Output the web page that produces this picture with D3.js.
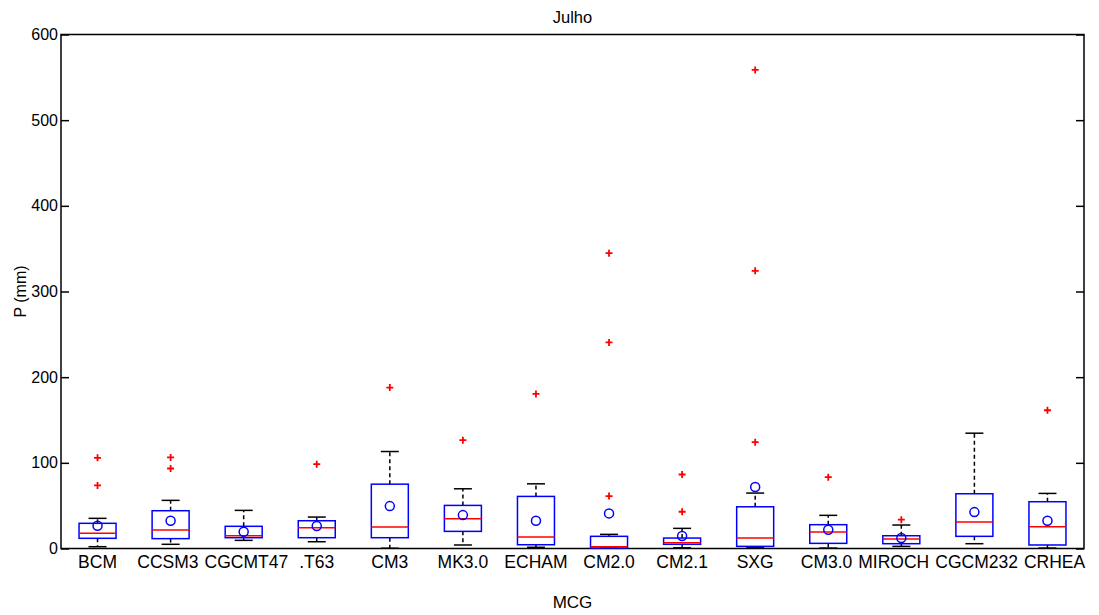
<!DOCTYPE html>
<html>
<head>
<meta charset="utf-8">
<script src="https://cdn.jsdelivr.net/npm/d3@7"></script>
<style>
  body { margin: 0; background: #fff; }
  svg { font-family: "Liberation Sans", Arial, sans-serif; }
</style>
</head>
<body>
<svg id="chart" width="1099" height="615"></svg>
<script>
// box statistics per model (P in mm)
const categories = ["BCM", "CCSM3", "CGCMT47", ".T63", "CM3", "MK3.0", "ECHAM",
  "CM2.0", "CM2.1", "SXG", "CM3.0", "MIROCH", "CGCM232", "CRHEA"];
const whiskerLow  = [2.1, 4.9, 9.5, 7.9, 0.3, 4.1, 1.4, 0.3, 0.8, 1.0, 0.5, 2.5, 5.6, 0.5];
const q1          = [11.9, 11.5, 12.6, 12.6, 12.6, 20.0, 4.4, 0.5, 4.9, 2.5, 6.0, 5.6, 14.2, 4.1];
const medians     = [17.7, 21.6, 14.9, 24.3, 25.0, 34.7, 13.4, 2.1, 6.8, 12.2, 19.2, 11.1, 30.9, 25.4];
const q3          = [29.4, 44.1, 25.9, 32.4, 75.1, 50.3, 60.8, 14.2, 12.2, 48.7, 27.8, 14.9, 63.9, 54.6];
const whiskerHigh = [35.2, 56.2, 44.5, 36.7, 113.2, 69.7, 75.5, 16.5, 23.5, 64.7, 38.7, 27.4, 134.6, 64.3];
const means       = [26.6, 32.4, 19.6, 26.2, 49.5, 39.0, 32.4, 41.0, 14.6, 71.7, 21.9, 12.2, 42.5, 32.4];
const outliers    = [[105.8, 73.6], [106.3, 93.4], [], [98.4], [187.8], [126.4], [180.4],
  [344.7, 240.6, 61.2], [86.4, 42.9], [558.7, 324.1, 124.1], [83.3], [33.6], [], [161.4]];
const yTicks = [0, 100, 200, 300, 400, 500, 600];

const svg = d3.select("#chart");
const margin = { top: 34.5, right: 15, bottom: 66.5, left: 61 };
const width = 1099 - margin.left - margin.right;
const height = 615 - margin.top - margin.bottom;

const g = svg.append("g")
  .attr("transform", `translate(${margin.left},${margin.top})`);

const x = d3.scaleBand().domain(categories).range([0, width]).padding(0);
const y = d3.scaleLinear().domain([0, 600]).range([height, 0]);

const boxHalf = 18.5;
const capHalf = 9;

// axes
g.append("g")
  .call(d3.axisLeft(y).tickValues(yTicks).tickSizeInner(-8).tickSizeOuter(0).tickPadding(3))
  .call(a => a.select(".domain").remove())
  .call(a => a.selectAll("text").attr("font-size", 16).attr("fill", "#000"))
  .call(a => a.selectAll("line").attr("stroke", "#000").attr("stroke-width", 1.5));

g.append("g")
  .attr("transform", `translate(${width},0)`)
  .call(d3.axisRight(y).tickValues(yTicks).tickSizeInner(-8).tickSizeOuter(0).tickFormat(""))
  .call(a => a.select(".domain").remove())
  .call(a => a.selectAll("line").attr("stroke", "#000").attr("stroke-width", 1.5));

const xAxisG = g.append("g")
  .attr("transform", `translate(0,${height})`)
  .call(d3.axisBottom(x).tickSize(0).tickPadding(7))
  .call(a => a.select(".domain").remove())
  .call(a => a.selectAll("text").attr("font-size", 17.5).attr("fill", "#000"));

// nudge crowded category labels apart (like matlab does)
const labels = xAxisG.selectAll(".tick text").nodes();
const widths = labels.map(n => n.getComputedTextLength());
const shift = labels.map(() => 0);
const minGap = 6;
for (let k = 0; k < 60; k++) {
  for (let i = 0; i < labels.length - 1; i++) {
    const c0 = x(categories[i]) + x.bandwidth() / 2 + shift[i];
    const c1 = x(categories[i + 1]) + x.bandwidth() / 2 + shift[i + 1];
    const overlap = (c0 + widths[i] / 2 + minGap) - (c1 - widths[i + 1] / 2);
    if (overlap > 0) {
      shift[i] -= overlap / 2;
      shift[i + 1] += overlap / 2;
    }
  }
}
labels.forEach((n, i) => d3.select(n).attr("dx", shift[i]));

g.append("rect")
  .attr("width", width).attr("height", height)
  .attr("fill", "none").attr("stroke", "#000").attr("stroke-width", 1.5);

// boxes
const items = categories.map((c, i) => ({
  c, lo: whiskerLow[i], q1: q1[i], med: medians[i], q3: q3[i],
  hi: whiskerHigh[i], mean: means[i], out: outliers[i]
}));

const box = g.selectAll(".box").data(items).enter().append("g")
  .attr("class", "box")
  .attr("transform", d => `translate(${x(d.c) + x.bandwidth() / 2},0)`);

// dashed whiskers
box.append("line")
  .attr("y1", d => y(d.q3)).attr("y2", d => y(d.hi))
  .attr("stroke", "#000").attr("stroke-width", 1.5).attr("stroke-dasharray", "4,3");
box.append("line")
  .attr("y1", d => y(d.q1)).attr("y2", d => y(d.lo))
  .attr("stroke", "#000").attr("stroke-width", 1.5).attr("stroke-dasharray", "4,3");

// caps
box.append("line")
  .attr("x1", -capHalf).attr("x2", capHalf)
  .attr("y1", d => y(d.hi)).attr("y2", d => y(d.hi))
  .attr("stroke", "#000").attr("stroke-width", 1.5);
box.append("line")
  .attr("x1", -capHalf).attr("x2", capHalf)
  .attr("y1", d => y(d.lo)).attr("y2", d => y(d.lo))
  .attr("stroke", "#000").attr("stroke-width", 1.5);

box.append("rect")
  .attr("x", -boxHalf).attr("width", boxHalf * 2)
  .attr("y", d => y(d.q3)).attr("height", d => y(d.q1) - y(d.q3))
  .attr("fill", "none").attr("stroke", "#0000ff").attr("stroke-width", 1.5);

box.append("line")
  .attr("x1", -boxHalf).attr("x2", boxHalf)
  .attr("y1", d => y(d.med)).attr("y2", d => y(d.med))
  .attr("stroke", "#ff0000").attr("stroke-width", 1.5);

// outliers as red plus marks
box.selectAll(".out").data(d => d.out).enter().append("path")
  .attr("class", "out")
  .attr("d", v => `M-3.5,${y(v)}h7M0,${y(v) - 3.5}v7`)
  .attr("stroke", "#ff0000").attr("stroke-width", 1.8);

// means
box.append("circle")
  .attr("cy", d => y(d.mean)).attr("r", 4.5)
  .attr("fill", "none").attr("stroke", "#0000ff").attr("stroke-width", 1.5);

// labels
svg.append("text")
  .attr("x", margin.left + width / 2).attr("y", 23)
  .attr("text-anchor", "middle").attr("font-size", 16.5).text("Julho");

svg.append("text")
  .attr("x", margin.left + width / 2).attr("y", 608)
  .attr("text-anchor", "middle").attr("font-size", 17).text("MCG");

svg.append("text")
  .attr("transform", `translate(26,${margin.top + height / 2}) rotate(-90)`)
  .attr("text-anchor", "middle").attr("font-size", 16).text("P (mm)");
</script>
</body>
</html>
